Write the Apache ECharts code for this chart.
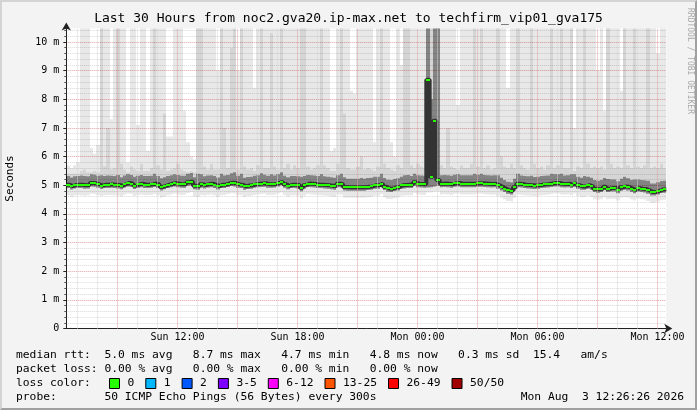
<!DOCTYPE html>
<html><head><meta charset="utf-8">
<script src="https://cdn.jsdelivr.net/npm/echarts@6/dist/echarts.min.js"></script>
<style>
html,body{margin:0;padding:0;background:#f3f3f3;}
#wrap{position:relative;width:697px;height:410px;}
#chart{position:absolute;left:0;top:0;width:697px;height:410px;}
#frame{position:absolute;left:0;top:0;width:697px;height:410px;box-sizing:border-box;border-style:solid;border-width:2px;border-color:#d4d4d4 #a0a0a0 #a0a0a0 #d4d4d4;pointer-events:none;}
</style></head><body>
<div id="wrap"><div id="chart"></div><div id="frame"></div></div>
<script>
// time in hours since Sun 00:00; one sample every 10 minutes
const startHour = 6.44056;   // Sun 06:26:26
const stepHours = 1 / 6;
const spanHours = 30;

const tickHours = [12, 18, 24, 30, 36];
const tickLabels = ['Sun 12:00', 'Sun 18:00', 'Mon 00:00', 'Mon 06:00', 'Mon 12:00'];

const median = [
5.02,4.97,5.01,5.02,5.02,5.00,5.01,5.08,5.07,5.03, 4.99,5.02,5.02,5.03,5.02,5.01,4.98,5.04,5.08,5.06, 4.99,5.03,5.05,5.02,5.02,5.03,5.06,5.02,4.94,4.98,
5.02,5.05,5.08,5.05,5.03,5.03,5.10,5.13,4.98,4.96, 5.03,5.01,5.04,5.05,5.02,4.97,5.02,5.02,5.06,5.09, 5.08,5.03,5.02,4.96,4.99,5.00,5.03,5.05,5.06,5.07,
5.03,5.03,5.04,5.08,5.12,5.03,4.98,5.02,5.02,5.01, 4.91,5.00,5.06,5.05,5.04,5.02,5.02,5.01,5.00,4.98, 4.96,5.05,5.04,4.94,4.93,4.93,4.93,4.93,4.93,4.93,
4.95,4.96,5.00,5.00,5.06,4.95,4.89,4.88,4.92,4.94, 5.00,5.01,5.02,5.02,5.10,5.05,5.04,5.03,8.68,5.30, 7.25,5.18,5.05,5.06,5.05,5.03,5.07,5.08,5.05,5.05,
5.05,5.05,5.05,5.07,5.07,5.06,5.05,5.04,5.05,5.00, 4.94,4.88,4.82,4.80,4.93,5.05,5.04,5.02,5.01,5.00, 4.99,5.00,5.02,5.03,5.04,5.06,5.08,5.08,5.05,5.04,
5.05,5.02,5.08,5.00,4.96,4.96,5.00,4.96,4.88,4.86, 4.88,4.95,4.88,4.90,4.90,4.84,4.93,4.96,4.94,4.88, 4.84,4.90,4.88,4.87,4.82,4.76,4.76,4.80,4.85,4.86
];
const minRtt = [
4.66,4.60,4.64,4.66,4.65,4.63,4.65,4.70,4.69,4.66, 4.62,4.65,4.66,4.66,4.65,4.64,4.61,4.67,4.71,4.69, 4.62,4.66,4.68,4.65,4.66,4.66,4.69,4.65,4.57,4.61,
4.65,4.68,4.71,4.68,4.66,4.67,4.73,4.76,4.61,4.59, 4.66,4.64,4.67,4.68,4.65,4.60,4.65,4.66,4.69,4.72, 4.71,4.66,4.65,4.59,4.62,4.63,4.66,4.68,4.69,4.70,
4.66,4.66,4.67,4.71,4.75,4.66,4.61,4.65,4.65,4.64, 4.54,4.63,4.69,4.68,4.67,4.65,4.65,4.64,4.63,4.61, 4.59,4.68,4.67,4.57,4.56,4.56,4.56,4.56,4.56,4.56,
4.58,4.59,4.63,4.63,4.69,4.58,4.52,4.51,4.55,4.57, 4.63,4.64,4.65,4.65,4.73,4.68,4.67,4.66,4.75,4.75, 4.78,4.78,4.68,4.69,4.68,4.66,4.70,4.71,4.68,4.68,
4.68,4.68,4.68,4.70,4.70,4.69,4.68,4.67,4.68,4.63, 4.57,4.51,4.45,4.43,4.56,4.68,4.67,4.65,4.64,4.63, 4.62,4.63,4.65,4.66,4.67,4.69,4.71,4.71,4.68,4.67,
4.68,4.65,4.71,4.63,4.59,4.59,4.63,4.59,4.51,4.49, 4.51,4.58,4.51,4.53,4.53,4.47,4.56,4.59,4.57,4.51, 4.47,4.53,4.51,4.50,4.45,4.39,4.39,4.43,4.48,4.49
];
const p25 = [
4.90,4.85,4.89,4.90,4.90,4.88,4.89,4.96,4.95,4.91, 4.87,4.90,4.90,4.91,4.90,4.89,4.86,4.92,4.96,4.94, 4.87,4.91,4.93,4.90,4.90,4.91,4.94,4.90,4.82,4.86,
4.90,4.93,4.96,4.93,4.91,4.91,4.98,5.01,4.86,4.84, 4.91,4.89,4.92,4.93,4.90,4.85,4.90,4.90,4.94,4.97, 4.96,4.91,4.90,4.84,4.87,4.88,4.91,4.93,4.94,4.95,
4.91,4.91,4.92,4.96,5.00,4.91,4.86,4.90,4.90,4.89, 4.79,4.88,4.94,4.93,4.92,4.90,4.90,4.89,4.88,4.86, 4.84,4.93,4.92,4.82,4.81,4.81,4.81,4.81,4.81,4.81,
4.83,4.84,4.88,4.88,4.94,4.83,4.77,4.76,4.80,4.82, 4.88,4.89,4.90,4.90,4.98,4.93,4.92,4.91,4.92,4.93, 4.96,4.98,4.93,4.94,4.93,4.91,4.95,4.96,4.93,4.93,
4.93,4.93,4.93,4.95,4.95,4.94,4.93,4.92,4.93,4.88, 4.82,4.76,4.70,4.68,4.81,4.93,4.92,4.90,4.89,4.88, 4.87,4.88,4.90,4.91,4.92,4.94,4.96,4.96,4.93,4.92,
4.93,4.90,4.96,4.88,4.84,4.84,4.88,4.84,4.76,4.74, 4.76,4.83,4.76,4.78,4.78,4.72,4.81,4.84,4.82,4.76, 4.72,4.78,4.76,4.75,4.70,4.64,4.64,4.68,4.73,4.74
];
const p75 = [
5.32,5.27,5.31,5.32,5.34,5.32,5.31,5.38,5.37,5.33, 5.35,5.32,5.34,5.33,5.32,5.36,5.28,5.34,5.38,5.36, 5.30,5.33,5.36,5.32,5.32,5.33,5.40,5.32,5.24,5.28,
5.32,5.35,5.38,5.36,5.33,5.33,5.40,5.43,5.28,5.40, 5.38,5.31,5.34,5.35,5.32,5.27,5.40,5.34,5.36,5.42, 5.45,5.33,5.40,5.26,5.29,5.30,5.33,5.35,5.42,5.37,
5.33,5.38,5.34,5.38,5.45,5.33,5.28,5.32,5.32,5.31, 5.30,5.32,5.36,5.35,5.34,5.32,5.38,5.31,5.30,5.28, 5.26,5.35,5.40,5.28,5.23,5.23,5.23,5.23,5.25,5.23,
5.25,5.26,5.30,5.30,5.40,5.25,5.19,5.18,5.22,5.24, 5.30,5.35,5.36,5.32,5.40,5.35,5.34,5.33,10.5,8.0, 10.5,10.5,5.35,5.36,5.35,5.33,5.37,5.38,5.35,5.35,
5.35,5.35,5.40,5.37,5.40,5.36,5.35,5.34,5.35,5.35, 5.26,5.18,5.12,5.10,5.23,5.40,5.34,5.32,5.31,5.33, 5.29,5.30,5.32,5.33,5.34,5.40,5.38,5.38,5.40,5.34,
5.35,5.38,5.38,5.30,5.26,5.32,5.30,5.26,5.18,5.16, 5.18,5.25,5.22,5.20,5.20,5.14,5.23,5.30,5.24,5.18, 5.20,5.20,5.18,5.17,5.16,5.06,5.06,5.10,5.15,5.16
];
const p90 = [
5.40,5.40,5.40,5.40,5.50,5.55,5.45,5.45,5.50,5.45, 10.5,5.65,7.0,5.55,5.60,10.5,5.75,5.55,5.45,5.65, 5.55,5.50,5.75,5.50,5.50,5.60,10.5,5.70,5.55,7.5,
5.50,5.55,5.60,5.75,5.55,5.50,5.45,5.50,5.45,10.5, 10.5,5.65,5.55,5.75,5.55,5.55,10.5,7.0,5.60,9.8, 10.5,5.55,10.5,5.65,5.55,5.60,5.50,5.70,10.5,5.60,
5.60,10.3,5.65,5.55,10.5,5.60,5.75,5.55,5.70,5.60, 10.5,10.5,5.65,5.55,5.60,5.70,10.5,5.70,5.60,5.50, 5.50,5.75,10.5,7.5,5.60,5.55,5.55,5.65,6.00,5.55,
5.60,5.55,5.50,5.65,10.5,5.75,5.60,5.55,5.50,5.70, 5.60,10.5,10.5,5.70,5.60,5.75,5.65,5.60,10.5,10.5, 10.5,10.5,5.70,5.60,7.0,5.65,5.60,5.55,5.70,5.60,
5.60,5.75,10.5,5.65,10.5,5.60,5.70,5.55,5.60,10.5, 6.00,5.65,5.60,5.75,5.60,10.5,5.70,5.60,5.55,10.5, 5.75,5.60,5.65,5.55,5.70,10.5,5.60,5.70,10.5,5.60,
5.60,10.5,5.50,5.65,5.60,10.5,5.75,5.60,5.65,5.60, 5.65,5.55,10.5,5.75,5.60,5.65,5.60,10.5,5.70,5.60, 10.5,5.65,5.60,5.70,10.5,5.60,5.65,5.60,5.75,5.60
];
const maxRtt = [
5.7,5.6,5.7,5.8,10.5,10.5,10.5,6.3,6.1,6.4, 10.5,10.5,10.5,7.3,10.5,10.5,10.5,10.5,5.8,10.5, 10.5,7.1,10.5,10.5,6.2,10.5,10.5,10.5,10.5,10.5,
6.7,6.7,10.5,10.5,10.5,7.6,6.5,6.0,5.9,10.5, 10.5,10.5,10.5,10.5,10.5,9.0,10.5,10.5,10.5,10.5, 10.5,9.0,10.5,10.5,10.5,10.5,8.4,10.5,10.5,10.5,
10.5,10.5,10.5,10.5,10.5,10.5,10.5,10.5,10.5,10.5, 10.5,10.5,10.5,10.5,10.5,10.5,10.5,10.5,10.5,6.2, 6.3,10.5,10.5,10.5,10.5,8.3,8.2,10.5,10.5,10.5,
10.5,10.5,6.5,10.5,10.5,10.5,10.5,6.5,6.0,10.5, 9.2,10.5,10.5,10.5,10.5,10.5,10.5,10.5,10.5,10.5, 10.5,10.5,10.5,10.5,10.5,10.5,10.5,7.8,10.5,10.5,
10.5,10.5,10.5,10.5,10.5,10.5,10.5,10.5,10.5,10.5, 10.5,10.5,8.4,10.5,10.5,10.5,10.5,10.5,10.5,10.5, 10.5,10.5,10.5,10.5,10.5,10.5,10.5,10.5,10.5,10.5,
10.5,10.5,7.0,10.5,10.5,10.5,10.5,10.5,10.5,9.0, 10.5,7.6,10.5,10.5,10.5,10.5,8.3,10.5,10.5,10.5, 10.5,10.5,10.5,10.5,10.5,10.5,10.5,9.6,10.5,10.5
];

const lossNames = ['0', '1', '2', '3-5', '6-12', '13-25', '26-49', '50/50'];
const lossColors = ['#26ff00', '#00b8ff', '#0059ff', '#7e00ff', '#ff00ff', '#ff5500', '#ff0000', '#a10000'];

const legendRows = [
  'median rtt:  5.0 ms avg   8.7 ms max   4.7 ms min   4.8 ms now   0.3 ms sd  15.4   am/s',
  'packet loss: 0.00 % avg   0.00 % max   0.00 % min   0.00 % now',
  'loss color:',
  'probe:       50 ICMP Echo Pings (56 Bytes) every 300s'
];
const stampText = 'Mon Aug  3 12:26:26 2026';
const titleText = 'Last 30 Hours from noc2.gva20.ip-max.net to techfirm_vip01_gva175';

const MONO = "'DejaVu Sans Mono', monospace";
const tAt = i => startHour + i * stepHours;

function bandData(lo, hi) { return lo.map((v, i) => [tAt(i), tAt(i + 1), v, hi[i]]); }
function bandRenderer(fill) {
  return function (params, api) {
    const a = api.coord([api.value(0), api.value(3)]);
    const b = api.coord([api.value(1), api.value(2)]);
    const x0 = Math.round(a[0]), x1 = Math.round(b[0]);
    return { type: 'rect', shape: { x: x0, y: a[1], width: x1 - x0, height: b[1] - a[1] }, style: { fill: fill } };
  };
}
function bandSeries(lo, hi, fill) {
  return { type: 'custom', renderItem: bandRenderer(fill), data: bandData(lo, hi), clip: true, silent: true,
           encode: { x: [0, 1], y: [2, 3] }, z: 2 };
}

const gridLines = [];
for (let h = Math.ceil(startHour); h <= startHour + spanHours; h++) {
  const li = tickHours.indexOf(h);
  gridLines.push({
    xAxis: h,
    lineStyle: { color: h % 3 === 0 ? '#e6a0a0' : '#d4d4d4', type: [1, 1], width: 1 },
    label: li >= 0 ? { show: true, position: 'start', distance: 4, formatter: tickLabels[li],
                       fontFamily: MONO, fontSize: 10, color: '#000' } : { show: false }
  });
}

const medianLine = median.map((v, i) => [tAt(i), v]);
medianLine.push([tAt(median.length), median[median.length - 1]]);

const series = [
  bandSeries(minRtt, maxRtt, 'rgba(0,0,0,0.09)'),
  bandSeries(p25, p90, 'rgba(0,0,0,0.08)'),
  bandSeries(p25, p75, 'rgba(0,0,0,0.38)'),
  { type: 'line', data: medianLine, step: 'end', symbol: 'none', silent: true, z: 3,
    lineStyle: { color: '#333333', width: 4 } },
  { type: 'custom', z: 4, silent: true, clip: true, encode: { x: [0, 1], y: 2 },
    data: median.map((v, i) => [tAt(i), tAt(i + 1), v]),
    renderItem: function (params, api) {
      const a = api.coord([api.value(0), api.value(2)]);
      const b = api.coord([api.value(1), api.value(2)]);
      const x0 = Math.round(a[0]), x1 = Math.round(b[0]);
      return { type: 'rect', shape: { x: x0, y: Math.round(a[1]) - 1, width: x1 - x0, height: 2 }, style: { fill: lossColors[0] } };
    } },
  { type: 'line', data: [], z: 1, silent: true,
    markLine: { silent: true, symbol: ['none', 'none'], animation: false, data: gridLines } }
];
lossNames.forEach((n, i) => series.push({ type: 'line', name: n, data: [], itemStyle: { color: lossColors[i] } }));

const txt = { fontFamily: MONO, fontSize: 11.3, fontWeight: 'normal', color: '#000' };
const option = {
  animation: false,
  backgroundColor: '#f3f3f3',
  title: [
    { text: titleText, left: 'center', top: 12, padding: 0,
      textStyle: { fontFamily: MONO, fontSize: 13, fontWeight: 'normal', color: '#000' } },
    { text: legendRows[0], left: 16, top: 349.5, padding: 0, textStyle: txt },
    { text: legendRows[1], left: 16, top: 363.5, padding: 0, textStyle: txt },
    { text: legendRows[2], left: 16, top: 377.5, padding: 0, textStyle: txt },
    { text: legendRows[3], left: 16, top: 391.5, padding: 0, textStyle: txt },
    { text: stampText, right: 13, top: 391.5, padding: 0, textStyle: txt }
  ],
  legend: {
    data: lossNames, left: 109, top: 378, padding: 0, icon: 'rect', itemWidth: 10, itemHeight: 10, itemGap: 11,
    selectedMode: false, itemStyle: { borderColor: '#000', borderWidth: 1 },
    textStyle: { fontFamily: MONO, fontSize: 11.3, color: '#000', padding: [0, 0, 0, 3] }
  },
  graphic: [{ type: 'text', x: 694, y: 8, rotation: -Math.PI / 2, silent: true,
    style: { text: 'RRDTOOL / TOBI OETIKER', fill: '#a8a8a8', font: "8px 'DejaVu Sans Mono'", textAlign: 'left', textVerticalAlign: 'top' } }],
  grid: { left: 66.3, top: 28.5, width: 600, height: 300, show: true, backgroundColor: '#ffffff', borderWidth: 0,
          containLabel: false, outerBoundsMode: 'none' },
  xAxis: {
    type: 'value', min: startHour, max: startHour + spanHours,
    axisLine: { show: true, onZero: false, symbol: ['none', 'arrow'], symbolSize: [7, 8], symbolOffset: [0, 6],
                lineStyle: { color: '#222', width: 1 } },
    axisTick: { show: false }, axisLabel: { show: false }, splitLine: { show: false }
  },
  yAxis: {
    type: 'value', min: 0, max: 10.47, interval: 1,
    name: 'Seconds', nameLocation: 'middle', nameGap: 51,
    nameTextStyle: { fontFamily: MONO, fontSize: 11, color: '#000' },
    axisLine: { show: true, onZero: false, symbol: ['none', 'arrow'], symbolSize: [7, 8], symbolOffset: [0, 6],
                lineStyle: { color: '#222', width: 1 } },
    axisTick: { show: true, length: 3, lineStyle: { color: '#222' } },
    minorTick: { show: true, splitNumber: 5, length: 2, lineStyle: { color: '#555' } },
    splitLine: { show: true, showMaxLine: false, lineStyle: { color: '#e6a0a0', type: [1, 1] } },
    minorSplitLine: { show: true, lineStyle: { color: '#d8d8d8', type: [1, 1] } },
    axisLabel: { fontFamily: MONO, fontSize: 10, color: '#000', margin: 7, showMaxLabel: false,
                 formatter: v => Number.isInteger(v) ? (v === 0 ? '0' : v + ' m') : '' }
  },
  series: series
};
const chart = echarts.init(document.getElementById('chart'));
chart.setOption(option);
</script>
</body></html>
